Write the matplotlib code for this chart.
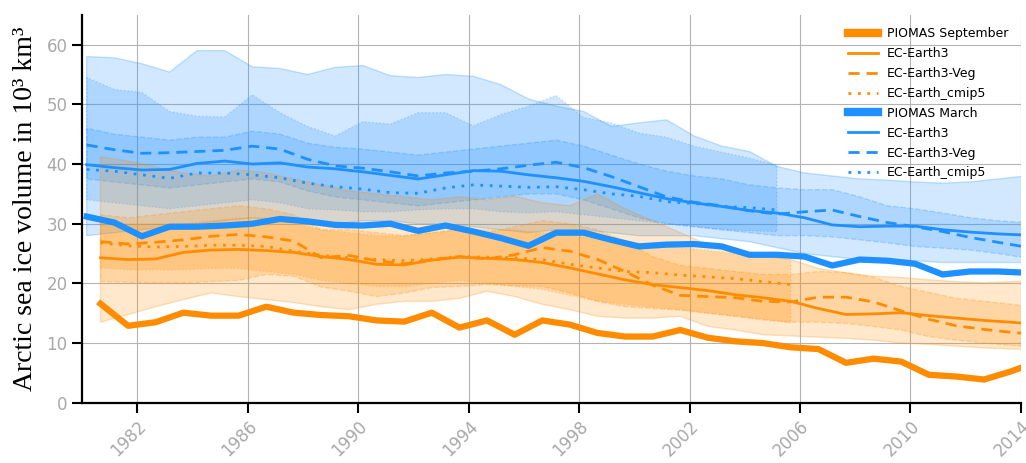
import numpy as np
import matplotlib

matplotlib.use("Agg")

import matplotlib.pyplot as plt

# years of the annual series (March = month 3, September = month 9)
YEARS = np.arange(1980, 2015)
YEARS_CMIP5 = np.arange(1980, 2006)

# PIOMAS reanalysis
piomas_mar = [31.2, 30.2, 27.9, 29.5, 29.5, 29.7, 30.0, 30.8, 30.4, 29.8, 29.7, 30.0,
              28.8, 29.7, 28.7, 27.6, 26.3, 28.5, 28.5, 27.3, 26.2, 26.5, 26.6, 26.2,
              24.8, 24.8, 24.5, 23.0, 24.0, 23.8, 23.3, 21.5, 22.0, 22.0, 21.8]
piomas_sep = [16.6, 12.9, 13.5, 15.1, 14.6, 14.6, 16.1, 15.1, 14.7, 14.5, 13.8, 13.6,
              15.1, 12.6, 13.8, 11.4, 13.8, 13.1, 11.7, 11.1, 11.1, 12.2, 10.9, 10.3,
              10.0, 9.3, 9.0, 6.7, 7.4, 6.9, 4.7, 4.4, 3.9, 5.3, 7.0]

# ensemble means, March
ec3_mar = [39.9, 39.4, 39.0, 39.1, 40.1, 40.5, 40.0, 40.2, 39.5, 39.2, 38.7, 38.1,
           37.5, 38.2, 38.9, 38.8, 38.2, 37.7, 37.1, 36.2, 35.2, 34.2, 33.5, 32.9,
           32.2, 31.8, 31.0, 29.8, 29.5, 29.6, 29.6, 29.0, 28.6, 28.3, 28.1]
veg_mar = [43.2, 42.4, 41.8, 41.9, 42.1, 42.3, 43.0, 42.5, 40.8, 39.7, 39.3, 38.7,
           38.0, 38.5, 38.8, 39.2, 39.8, 40.3, 39.4, 37.9, 36.2, 34.5, 33.6, 33.0,
           32.2, 31.6, 32.0, 32.3, 31.2, 30.2, 29.5, 28.7, 27.7, 26.9, 26.1]
cmip5_mar = [39.1, 38.8, 38.2, 37.6, 38.5, 38.5, 38.2, 37.7, 36.8, 36.2, 35.8, 35.2,
             35.1, 36.0, 36.5, 36.3, 36.1, 36.2, 35.7, 35.0, 34.6, 33.7, 33.4, 32.9,
             32.7, 32.3]

# ensemble means, September
ec3_sep = [24.3, 24.0, 24.1, 25.2, 25.6, 25.7, 25.5, 25.2, 24.5, 24.0, 23.2, 23.1,
           23.9, 24.4, 24.2, 24.0, 23.5, 22.6, 21.6, 20.6, 19.8, 19.3, 18.8, 18.1,
           17.6, 17.0, 15.8, 14.8, 14.9, 15.1, 14.6, 14.2, 13.8, 13.5, 13.1]
veg_sep = [27.0, 26.6, 26.9, 27.3, 27.9, 28.2, 27.8, 27.1, 24.3, 24.7, 23.8, 23.3,
           24.0, 24.5, 24.1, 24.8, 26.0, 25.4, 24.0, 22.0, 19.7, 18.0, 17.8, 17.6,
           17.0, 16.9, 17.7, 17.7, 16.9, 15.4, 14.0, 12.9, 12.3, 11.8, 11.4]
cmip5_sep = [26.8, 26.3, 26.1, 26.2, 26.4, 26.4, 26.2, 25.4, 24.7, 24.3, 24.0, 23.8,
             24.1, 24.5, 24.4, 24.3, 24.0, 23.2, 22.6, 22.0, 21.8, 21.4, 21.1, 20.8,
             20.3, 19.8]

# ensemble spread (min / max), March
ec3_mar_hi = [58.0, 57.8, 56.8, 55.4, 59.0, 59.0, 56.3, 56.0, 55.0, 56.2, 56.5, 54.8,
              54.5, 55.0, 54.7, 53.3, 50.9, 49.7, 48.8, 46.3, 46.9, 47.4, 44.7, 43.0,
              42.1, 39.6, 38.5, 38.0, 37.5, 37.3, 37.0, 36.8, 37.0, 37.5, 38.0]
ec3_mar_lo = [28.0, 28.5, 29.0, 29.5, 30.0, 30.5, 31.0, 30.5, 30.0, 30.0, 30.5, 30.5,
              30.0, 30.0, 29.5, 29.0, 28.5, 29.0, 29.0, 28.5, 28.0, 28.0, 28.0, 27.5,
              27.0, 26.0, 25.0, 24.5, 24.0, 24.0, 23.8, 23.5, 23.5, 23.5, 23.5]
veg_mar_hi = [46.0, 45.0, 44.5, 44.0, 44.5, 44.5, 45.5, 45.0, 43.5, 42.8, 42.5, 42.0,
              41.5, 42.0, 42.5, 43.0, 43.5, 44.0, 43.0, 41.5, 40.0, 38.8, 38.0, 37.5,
              36.5, 36.0, 35.7, 35.7, 34.5, 33.0, 32.5, 31.8, 31.0, 30.5, 30.2]
veg_mar_lo = [37.5, 37.0, 36.5, 36.0, 36.5, 37.0, 37.5, 37.0, 35.5, 34.5, 34.0, 33.5,
              33.0, 33.5, 34.0, 34.5, 35.0, 35.0, 34.0, 32.5, 31.0, 30.0, 29.5, 29.0,
              28.5, 28.0, 28.0, 27.8, 27.3, 26.8, 26.2, 25.9, 25.6, 25.0, 24.3]
cmip5_mar_hi = [54.5, 52.5, 52.0, 48.8, 48.0, 47.9, 51.6, 48.6, 46.3, 44.7, 47.1, 46.7,
                48.6, 48.6, 46.4, 48.3, 49.7, 51.5, 47.8, 46.9, 45.2, 44.5, 43.0, 42.0,
                41.0, 39.8]
cmip5_mar_lo = [34.0, 33.5, 33.0, 32.5, 33.0, 33.5, 34.0, 33.5, 32.5, 32.3, 32.0, 32.0,
                32.3, 32.5, 32.5, 32.0, 31.8, 32.0, 31.5, 31.0, 30.5, 30.0, 29.5, 29.0,
                28.8, 28.7]

# ensemble spread (min / max), September
ec3_sep_hi = [41.2, 40.5, 39.5, 38.5, 38.0, 39.0, 38.5, 37.5, 36.5, 35.5, 35.0, 34.5,
              34.0, 34.5, 34.0, 34.6, 33.5, 33.0, 35.0, 32.5, 30.5, 28.5, 26.5, 25.0,
              24.5, 24.0, 22.5, 21.8, 21.2, 21.0, 20.6, 20.3, 20.1, 20.3, 20.6]
ec3_sep_lo = [13.5, 14.8, 16.1, 17.3, 18.4, 17.8, 17.3, 16.8, 16.1, 15.6, 16.5, 17.0,
              17.0, 17.5, 18.7, 17.8, 16.5, 15.6, 14.5, 14.2, 14.2, 14.5, 12.8, 12.2,
              11.4, 11.2, 11.0, 10.8, 10.5, 10.0, 9.8, 9.5, 9.2, 9.0, 8.9]
veg_sep_hi = [31.5, 31.0, 31.5, 32.0, 32.5, 33.0, 32.5, 31.5, 29.0, 29.0, 28.5, 28.0,
              28.5, 29.0, 28.5, 29.5, 30.5, 30.0, 29.0, 27.0, 24.5, 23.0, 22.5, 22.0,
              21.5, 21.5, 22.0, 21.8, 21.0, 19.5, 18.5, 17.5, 17.0, 16.5, 16.0]
veg_sep_lo = [20.3, 20.2, 20.1, 20.1, 20.3, 20.5, 21.5, 21.2, 19.4, 18.7, 17.8, 18.4,
              19.3, 19.5, 19.8, 19.6, 19.5, 18.4, 17.0, 16.1, 15.8, 15.6, 15.0, 14.5,
              13.9, 13.5, 13.5, 13.3, 12.8, 12.2, 11.1, 10.5, 10.0, 9.6, 9.3]
cmip5_sep_hi = [30.5, 30.0, 30.0, 30.0, 30.5, 31.0, 31.0, 30.0, 29.0, 28.5, 28.0, 28.0,
                28.5, 29.0, 29.0, 29.0, 28.5, 28.0, 27.5, 27.0, 26.5, 26.0, 25.5, 25.0,
                24.8, 24.5]
cmip5_sep_lo = [22.6, 22.3, 22.3, 22.3, 22.5, 22.5, 22.0, 21.5, 20.5, 20.0, 19.5, 19.5,
                20.0, 20.5, 20.0, 19.5, 19.0, 18.0, 17.0, 16.5, 16.0, 15.5, 15.0, 14.5,
                14.0, 13.4]

SEP_COLOR = "darkorange"
MAR_COLOR = "dodgerblue"
DASH = (0, (4, 2.5))
DOT = (0, (1, 2.4))


def _band(ax, x, lo, hi, color, ls):
    ax.fill_between(x, lo, hi, facecolor=color, alpha=0.2, zorder=1)
    ax.fill_between(x, lo, hi, facecolor="none", edgecolor=color, alpha=0.25,
                    linestyle=ls, linewidth=1.0, zorder=1)


def main():
    fig = plt.figure(figsize=(10.26, 4.63), dpi=100)
    ax = fig.add_axes([0.080, 0.130, 0.915, 0.838])

    mar_x = YEARS + 2 / 12
    sep_x = YEARS + 8 / 12
    mar_x5 = YEARS_CMIP5 + 2 / 12
    sep_x5 = YEARS_CMIP5 + 8 / 12

    _band(ax, mar_x, ec3_mar_lo, ec3_mar_hi, MAR_COLOR, "-")
    _band(ax, mar_x, veg_mar_lo, veg_mar_hi, MAR_COLOR, "--")
    _band(ax, mar_x5, cmip5_mar_lo, cmip5_mar_hi, MAR_COLOR, ":")
    _band(ax, sep_x, ec3_sep_lo, ec3_sep_hi, SEP_COLOR, "-")
    _band(ax, sep_x, veg_sep_lo, veg_sep_hi, SEP_COLOR, "--")
    _band(ax, sep_x5, cmip5_sep_lo, cmip5_sep_hi, SEP_COLOR, ":")

    ax.plot(sep_x, piomas_sep, color=SEP_COLOR, lw=4.5, label="PIOMAS September", zorder=5)
    ax.plot(sep_x, ec3_sep, color=SEP_COLOR, lw=2.0, label="EC-Earth3", zorder=4)
    ax.plot(sep_x, veg_sep, color=SEP_COLOR, lw=2.0, ls=DASH, label="EC-Earth3-Veg", zorder=4)
    ax.plot(sep_x5, cmip5_sep, color=SEP_COLOR, lw=2.0, ls=DOT, label="EC-Earth_cmip5", zorder=4)
    ax.plot(mar_x, piomas_mar, color=MAR_COLOR, lw=4.5, label="PIOMAS March", zorder=5)
    ax.plot(mar_x, ec3_mar, color=MAR_COLOR, lw=2.0, label="EC-Earth3", zorder=4)
    ax.plot(mar_x, veg_mar, color=MAR_COLOR, lw=2.0, ls=DASH, label="EC-Earth3-Veg", zorder=4)
    ax.plot(mar_x5, cmip5_mar, color=MAR_COLOR, lw=2.0, ls=DOT, label="EC-Earth_cmip5", zorder=4)

    ax.set_xlim(1980, 2014)
    ax.set_ylim(0, 65)
    ax.set_xticks(np.arange(1982, 2015, 4))
    ax.set_yticks(np.arange(0, 61, 10))
    ax.grid(True, color="#b4b4b4", linewidth=0.8, zorder=0)
    ax.set_axisbelow(True)

    for side in ("top", "right"):
        ax.spines[side].set_visible(False)
    for side in ("left", "bottom"):
        ax.spines[side].set_linewidth(1.6)
        ax.spines[side].set_color("black")
    ax.tick_params(axis="both", direction="out", length=7, width=1.5, color="black",
                   labelcolor="#a8a8a8", labelsize=12)
    plt.setp(ax.get_xticklabels(), rotation=45, ha="right", rotation_mode="anchor")

    ax.set_ylabel("Arctic sea ice volume in 10³ km³", family="Liberation Serif",
                  fontsize=20, labelpad=6)

    leg = ax.legend(loc="upper right", frameon=False, fontsize=9, handlelength=2.4,
                    handletextpad=0.7, labelspacing=0.55, borderaxespad=0.6)
    for line in leg.get_lines():
        if line.get_linewidth() > 3:
            line.set_linewidth(6)

    fig.savefig("out.png", dpi=100)
    plt.close(fig)


if __name__ == "__main__":
    main()
